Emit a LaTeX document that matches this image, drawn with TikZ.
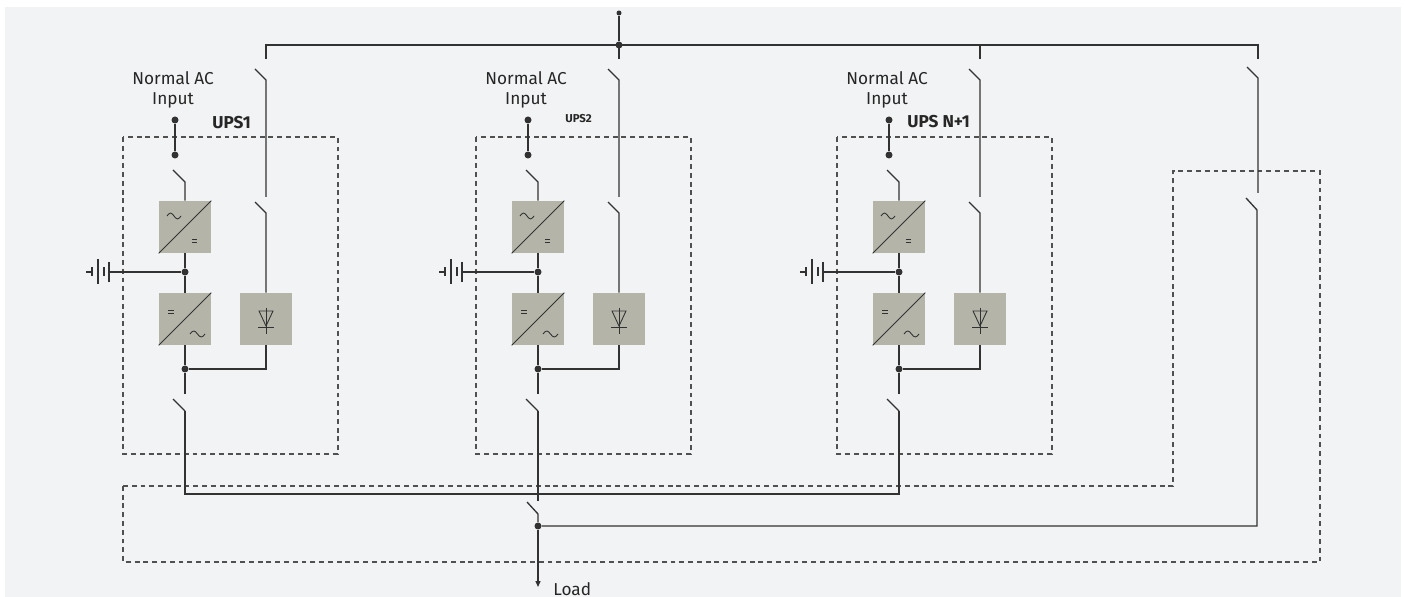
\documentclass[tikz,border=0pt]{standalone}
\usepackage{fontspec}
\setmainfont{Fira Sans}
\usetikzlibrary{arrows.meta}

\definecolor{panel}{RGB}{242,243,245}
\definecolor{convgray}{RGB}{180,181,168}
\definecolor{wirec}{RGB}{50,50,50}
\definecolor{framec}{RGB}{80,80,80}

\tikzset{
  wire/.style={draw=wirec, line width=0.75pt},
  thin wire/.style={draw=wirec, line width=0.5pt},
  conv/.style={fill=convgray, minimum width=1.04cm, minimum height=1.04cm, inner sep=0pt},
  frame/.style={draw=framec, line width=0.65pt, dash pattern=on 2.8pt off 2.2pt},
  junction/.style={circle, fill=wirec, inner sep=0pt, minimum size=0.14cm},
  feeddot/.style={circle, fill=wirec, inner sep=0pt, minimum size=0.1cm},
  txt/.style={font=\fontsize{9.8}{11.3}\selectfont, text=black!85, inner sep=0pt},
  unitname/.style={font=\fontsize{9.8}{11}\selectfont\bfseries, text=black!85, inner sep=0pt, anchor=base west},
  unitsmall/.style={font=\fontsize{6.5}{8}\selectfont\bfseries, text=black!85, inner sep=0pt, anchor=base west},
}

\begin{document}
\begin{tikzpicture}[x=0.02cm, y=-0.02cm]
\useasboundingbox (0,0) rectangle (1405,597);
\fill[panel] (5,7) rectangle (1401,597);

% static bypass frame
\draw[frame] (123,486) -- (1173,486) -- (1173,171) -- (1320,171) -- (1320,562) -- (123,562) -- cycle;

% one column per UPS
\foreach \m/\upsname/\lx/\ly/\ls [count=\i] in {185/UPS1/212/129/unitname, 538/UPS2/565/123/unitsmall, 899/UPS N+1/907/128/unitname}{
  \draw[frame] (\m-62,137) rectangle (\m+153,454);
  \node[txt, align=center, anchor=south] (nac\i) at (\m-12,108.5) {Normal AC\\Input};
  \node[\ls] (ups\i) at (\lx,\ly) {\upsname};
  \node[conv] (rec\i) at (\m,227) {};
  \node[conv] (inv\i) at (\m,319) {};
  \node[conv] (dio\i) at (\m+81,319) {};
  \node[junction] (in\i) at (\m-10,120) {};
  \node[junction] (ina\i) at (\m-10,155) {};
  \node[junction] (dc\i) at (\m,272) {};
  \node[junction] (ac\i) at (\m,369) {};
  % switch contacts
  \coordinate (bus\i) at (\m+81,45);
  \coordinate (bt\i) at (\m+81,59);
  \coordinate (bo\i) at (\m+70,69);
  \coordinate (bp\i) at (\m+81,80);
  \coordinate (ct\i) at (\m+81,197);
  \coordinate (co\i) at (\m+70,202);
  \coordinate (cp\i) at (\m+81,213);
  \coordinate (io\i) at (\m-12,170);
  \coordinate (ip\i) at (\m,182);
  \coordinate (ot\i) at (\m,394);
  \coordinate (oo\i) at (\m-12,399);
  \coordinate (op\i) at (\m,411);
  \coordinate (bat\i) at (\m-76,272);
  % wiring
  \draw[wire] (bus\i) -- (bt\i);
  \draw[wire] (bo\i) -- (bp\i) -- (ct\i);
  \draw[wire] (co\i) -- (cp\i) -- (dio\i.north);
  \draw[wire] (dio\i.south) |- (ac\i);
  \draw[wire] (in\i) -- (ina\i);
  \draw[wire] (io\i) -- (ip\i) -- (rec\i.north);
  \draw[wire] (rec\i.south) -- (dc\i) -- (inv\i.north);
  \draw[wire] (inv\i.south) -- (ac\i) -- (ot\i);
  \draw[wire] (oo\i) -- (op\i);
  \draw[wire] (bat\i) -- (dc\i);
  % battery
  \draw[wire] (\m-99,272) -- (\m-93,272);
  \draw[wire] (\m-93,267.5) -- (\m-93,276.5);
  \draw[wire] (\m-87,259.5) -- (\m-87,284.5);
  \draw[wire] (\m-81,267.5) -- (\m-81,276.5);
  \draw[wire] (\m-76,262) -- (\m-76,282);
  % converter symbols
  \draw[thin wire] (rec\i.south west) -- (rec\i.north east);
  \draw[thin wire] (inv\i.south west) -- (inv\i.north east);
  \draw[thin wire] (\m-18,216) sin (\m-14.5,213) cos (\m-11,216) sin (\m-7.5,219) cos (\m-4,216);
  \draw[thin wire] (\m+7,239) -- (\m+12,239) (\m+7,242) -- (\m+12,242);
  \draw[thin wire] (\m-17,310.5) -- (\m-11,310.5) (\m-17,313.5) -- (\m-11,313.5);
  \draw[thin wire] (\m+5,334) sin (\m+8.75,331) cos (\m+12.5,334) sin (\m+16.25,337) cos (\m+20,334);
  % diode
  \draw[thin wire] (\m+74,311) -- (\m+88,311) -- (\m+81,326) -- cycle;
  \draw[thin wire] (\m+73,327) -- (\m+89,327) (\m+81,308) -- (\m+81,334);
}

% mains feed and bypass bus
\node[feeddot] (feed) at (619,13) {};
\node[junction] (fj) at (619,45) {};
\coordinate (sbus) at (1258,45);
\coordinate (sbt) at (1258,59);
\coordinate (sbo) at (1247,67);
\coordinate (sbp) at (1258,78);
\coordinate (sct) at (1258,193);
\coordinate (sco) at (1246,198);
\coordinate (scp) at (1257,210);
\draw[wire] (feed) -- (fj);
\draw[wire] (bt1) -- (bus1) -- (sbus) -- (sbt);
\draw[wire] (sbo) -- (sbp) -- (sct);

% output and load
\coordinate (obus) at (185,494);
\coordinate (mt) at (538,501);
\coordinate (mo) at (527,502);
\coordinate (mp) at (538,514);
\node[junction] (ld) at (538,526) {};
\coordinate (lo) at (538,587);
\draw[wire] (op1) -- (obus) -| (op3);
\draw[wire] (op2) -- (mt);
\draw[wire] (mo) -- (mp) -- (ld);
\draw[wire] (sco) -- (scp) |- (ld);
\draw[wire, -{Triangle[length=0.12cm, width=0.1cm]}] (ld) -- (lo);
\node[txt, anchor=base west] (load) at (553,595) {Load};
\end{tikzpicture}
\end{document}
